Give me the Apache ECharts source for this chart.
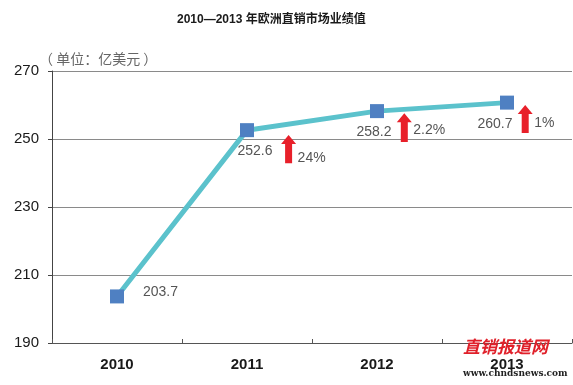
<!DOCTYPE html>
<html>
<head>
<meta charset="utf-8">
<script src="https://cdn.jsdelivr.net/npm/echarts@6/dist/echarts.min.js"></script>
<style>html,body{margin:0;padding:0;background:#fff}#c{width:573px;height:385px}</style>
</head>
<body>
<div id="c"></div>
<script>
var categories = ['2010', '2011', '2012', '2013'];
var values = [203.7, 252.6, 258.2, 260.7];
var yTicks = [190, 210, 230, 250, 270];
var growthLabels = ['24%', '2.2%', '1%'];
// arrow anchors in data units: [x on 0..4 scale, bottom value, top value, label value]
var arrowX = [1.82, 2.71, 3.64];
var arrowBottom = [242.9, 249.1, 251.8];
var arrowTop = [251.2, 257.6, 260.0];
var arrowLabelY = [244.4, 252.6, 254.7];

var labelCfg = [
  {position: 'right', distance: 19, offset: [0, -4]},
  {position: 'bottom', distance: 7, offset: [8, 0]},
  {position: 'bottom', distance: 7, offset: [-3, 0]},
  {position: 'bottom', distance: 8, offset: [-12, 0]}
];

var chart = echarts.init(document.getElementById('c'));
var arrowData = arrowX.map(function (x, i) {
  return [x, arrowBottom[i], arrowTop[i], arrowLabelY[i], growthLabels[i]];
});

chart.setOption({
  animation: false,
  backgroundColor: '#fff',
  title: {
    text: '2010\u20142013 年欧洲直销市场业绩值',
    left: 172, top: 9,
    textStyle: {fontSize: 12, fontWeight: 'bold', color: '#1a1a1a', fontFamily: 'Liberation Sans, Noto Sans CJK SC'}
  },
  grid: {left: 52, right: 1, top: 71, bottom: 42, containLabel: false},
  xAxis: [{
    type: 'category',
    data: categories,
    boundaryGap: true,
    axisLine: {lineStyle: {color: '#555', width: 1}},
    axisTick: {show: true, inside: true, length: 4, lineStyle: {color: '#555'}},
    axisLabel: {fontSize: 15, fontWeight: 'bold', color: '#1a1a1a', margin: 14, fontFamily: 'Liberation Sans'}
  }, {
    type: 'value', min: 0, max: 4, show: false
  }],
  yAxis: {
    type: 'value', min: yTicks[0], max: yTicks[yTicks.length - 1], interval: 20,
    axisLine: {show: true, lineStyle: {color: '#444', width: 1}},
    axisTick: {show: true, length: 4, lineStyle: {color: '#444'}},
    axisLabel: {fontSize: 15, color: '#1a1a1a', margin: 13, fontFamily: 'Liberation Sans'},
    splitLine: {lineStyle: {color: '#8a8a8a', width: 1}}
  },
  graphic: [
    {type: 'text', left: 39, top: 52, style: {text: '（ 单位：亿美元 ）', fontSize: 14, fill: '#666', fontFamily: 'Noto Sans CJK SC'}},
    {type: 'text', left: 463, top: 338, z: 100, style: {text: '直销报道网', fontSize: 17, fontWeight: 'bold', fontStyle: 'italic', fill: '#e0202a', fontFamily: 'Noto Sans CJK SC'}},
    {type: 'text', left: 463, top: 369, z: 100, style: {text: 'www.chndsnews.com', fontSize: 9, fontWeight: 'bold', fill: '#222', fontFamily: 'DejaVu Serif'}}
  ],
  series: [{
    type: 'line',
    data: values.map(function (v, i) {
      return {value: v, label: labelCfg[i]};
    }),
    lineStyle: {color: '#5bc2cc', width: 5},
    symbol: 'rect',
    symbolSize: 14,
    itemStyle: {color: '#4f80c2'},
    z: 3,
    label: {show: true, fontSize: 14, color: '#555', fontFamily: 'Liberation Sans'}
  }, {
    type: 'custom',
    xAxisIndex: 1,
    data: arrowData,
    z: 4,
    renderItem: function (params, api) {
      var top = api.coord([api.value(0), api.value(2)]);
      var bot = api.coord([api.value(0), api.value(1)]);
      var lab = api.coord([api.value(0), api.value(3)]);
      var cx = top[0];
      var headH = 9, headW = 7.5, shaftW = 3.5;
      return {
        type: 'group',
        children: [{
          type: 'polygon',
          shape: {points: [
            [cx, top[1]], [cx + headW, top[1] + headH], [cx + shaftW, top[1] + headH],
            [cx + shaftW, bot[1]], [cx - shaftW, bot[1]], [cx - shaftW, top[1] + headH],
            [cx - headW, top[1] + headH]
          ]},
          style: {fill: '#e8202a'}
        }, {
          type: 'text',
          style: {
            text: arrowData[params.dataIndex][4],
            x: cx + 9, y: lab[1],
            verticalAlign: 'middle', align: 'left',
            fontSize: 14, fill: '#555', fontFamily: 'Liberation Sans'
          }
        }]
      };
    }
  }]
});
</script>
</body>
</html>
